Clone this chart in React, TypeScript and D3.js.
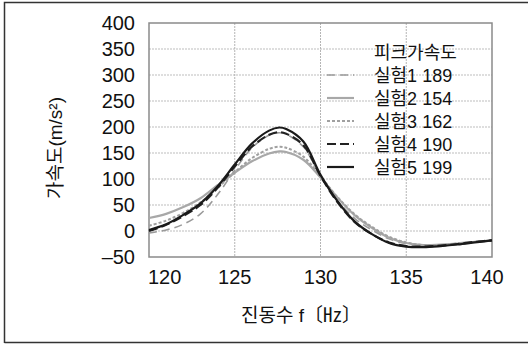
import React from 'react';
import * as d3 from 'd3';

// 주파수 (Hz)
const freqs = [120, 121, 122, 123, 124, 125, 126, 127, 127.6, 128, 129, 130, 131, 132, 133, 134, 135, 136, 137, 138, 139, 140];

// 실험별 가속도 (m/s²)
const exp1 = [-4, 2, 13, 33, 70, 117, 160, 184, 189, 186, 162, 105, 58, 24, 2, -15, -24, -28, -27, -25, -21, -18];
const exp2 = [25, 33, 46, 63, 88, 112, 134, 149, 153, 152, 137, 103, 64, 30, 6, -13, -23, -27, -26, -24, -21, -18];
const exp3 = [10, 20, 35, 55, 83, 113, 140, 158, 162, 160, 143, 105, 65, 32, 8, -11, -22, -27, -27, -24, -21, -18];
const exp4 = [0, 12, 29, 50, 83, 124, 162, 185, 190, 187, 165, 106, 55, 17, -6, -22, -29, -30, -28, -25, -21, -18];
const exp5 = [2, 13, 31, 53, 86, 128, 168, 193, 199, 196, 172, 108, 57, 18, -6, -23, -30, -31, -29, -26, -22, -18];

const legendLabels = ['실험1 189', '실험2 154', '실험3 162', '실험4 190', '실험5 199'];
const yTicks = [-50, 0, 50, 100, 150, 200, 250, 300, 350, 400];
const xTicks = [120, 125, 130, 135, 140];

const series = [
  { values: exp1, color: '#9a9a9a', width: 1.6, dash: '8,5' },
  { values: exp2, color: '#a8a8a8', width: 2.2, dash: null },
  { values: exp3, color: '#a0a0a0', width: 2, dash: '3,2' },
  { values: exp4, color: '#222', width: 2.2, dash: '9,4' },
  { values: exp5, color: '#1a1a1a', width: 2.2, dash: null },
];

const FONT = '"Liberation Sans", "Noto Sans CJK KR", sans-serif';

export default function App() {
  const left = 149, right = 492, top = 23, bottom = 257;
  const x = d3.scaleLinear().domain([120, 140]).range([left, right]);
  const y = d3.scaleLinear().domain([-50, 400]).range([bottom, top]);

  const line = d3.line<number>()
    .x((_, i) => x(freqs[i]))
    .y(d => y(d))
    .curve(d3.curveCatmullRom.alpha(0.5));

  return (
    <svg width={528} height={345} style={{ position: 'absolute', left: 0, top: 0, fontFamily: FONT }}>
      <rect x={0} y={0} width={528} height={345} fill="#fff" />
      <path d="M4.5,343 V2.5 H528 M4.5,342.5 H528" fill="none" stroke="#333" strokeWidth={1.5} />

      {/* 격자 */}
      {yTicks.filter(t => t > -50 && t < 400).map(t => (
        <line key={'gy' + t} x1={left} x2={right} y1={y(t)} y2={y(t)} stroke="#bdbdbd" strokeWidth={1} strokeDasharray="2,1" />
      ))}
      {xTicks.filter(t => t > 120 && t < 140).map(t => (
        <line key={'gx' + t} x1={x(t)} x2={x(t)} y1={top} y2={bottom} stroke="#b5b5b5" strokeWidth={1} strokeDasharray="2,1" />
      ))}
      <rect x={left} y={top} width={right - left} height={bottom - top} fill="none" stroke="#8a8a8a" strokeWidth={1.5} />

      {/* 곡선 */}
      {series.map((s, i) => (
        <path key={i} d={line(s.values) || ''} fill="none" stroke={s.color} strokeWidth={s.width}
          strokeDasharray={s.dash || undefined} />
      ))}

      {/* y축 눈금 */}
      {yTicks.map(t => (
        <text key={'yt' + t} x={135} y={y(t) + 7} textAnchor="end" fontSize={20} fill="#111">
          {t < 0 ? '–' + Math.abs(t) : t}
        </text>
      ))}
      {/* x축 눈금 */}
      {xTicks.map((t, i) => (
        <text key={'xt' + t} x={i === 0 ? x(t) - 1 : i === xTicks.length - 1 ? x(t) - 5 : x(t)} y={284}
          textAnchor={i === 0 ? 'start' : 'middle'} fontSize={20} fill="#111">{t}</text>
      ))}

      {/* 축 제목 */}
      <text x={301} y={322} textAnchor="middle" fontSize={19} fill="#111">진동수 f〔㎐〕</text>
      <text transform="translate(62,148) rotate(-90)" textAnchor="middle" fontSize={19} fill="#111">가속도(m/s²)</text>

      {/* 범례 */}
      <text x={374} y={59} fontSize={18} fill="#111">피크가속도</text>
      {series.map((s, i) => {
        const ly = 75 + i * 23;
        return (
          <g key={'lg' + i}>
            <line x1={327} x2={354} y1={ly} y2={ly} stroke={s.color} strokeWidth={s.width} strokeDasharray={s.dash || undefined} />
            <text x={374} y={ly + 7} fontSize={18} fill="#111">{legendLabels[i]}</text>
          </g>
        );
      })}
    </svg>
  );
}
